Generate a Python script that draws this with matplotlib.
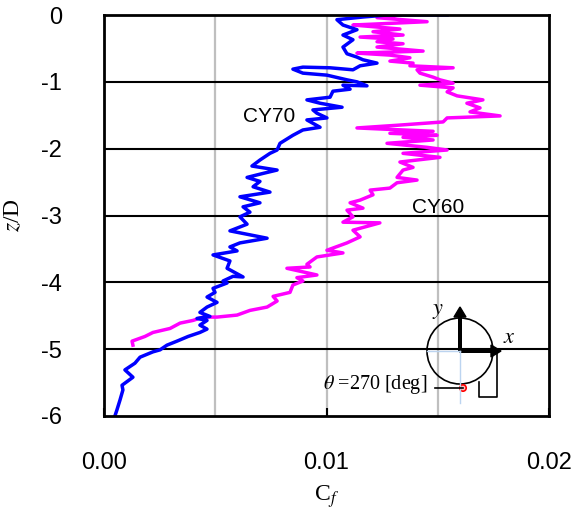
import numpy as np
import matplotlib
matplotlib.use("Agg")
import matplotlib.pyplot as plt
from matplotlib.patches import Circle, FancyArrow

plt.rcParams["mathtext.fontset"] = "stix"

# Skin-friction profiles along the height, Cf in units of 1e-4
cf70 = np.array([
    4.9, 5.8, 7.2, 8.5, 8.1, 13.0, 9.4, 13.9, 16.2, 22.0, 25.2, 28.3, 32.8, 37.8,
    43.1, 46.3, 43.1, 46.3, 41.8, 47.6, 43.1, 46.3, 50.8, 46.3, 49.9, 49.0, 55.3,
    53.5, 58.0, 62.5, 55.3, 56.6, 49.0, 59.8, 56.6, 61.1, 73.3, 56.6, 64.3, 61.1,
    65.6, 62.5, 70.1, 61.1, 74.6, 67.0, 70.1, 64.3, 71.5, 77.8, 66.5, 70.1, 74.6,
    77.8, 79.1, 84.9, 89.4, 97.1, 91.2, 100.2, 95.7, 93.9, 107.0, 97.1, 91.2,
    101.6, 102.9, 110.6, 107.4, 118.2, 113.7, 109.2, 100.2, 89.4, 84.9, 89.4,
    101.6, 111.9, 115.1, 122.7, 116.4, 113.7, 109.2, 107.4, 111.9, 107.4, 113.7,
    107.4, 104.7, 116.4, 127.2, 154.2]) * 1e-4
z70 = np.array([
    -6.00, -5.91, -5.76, -5.61, -5.54, -5.42, -5.31, -5.21, -5.12, -5.04, -5.01,
    -4.94, -4.88, -4.81, -4.75, -4.70, -4.64, -4.57, -4.54, -4.51, -4.45, -4.37,
    -4.30, -4.22, -4.15, -4.09, -4.01, -3.98, -3.91, -3.92, -3.79, -3.68, -3.59,
    -3.53, -3.47, -3.41, -3.34, -3.23, -3.13, -3.02, -2.95, -2.87, -2.81, -2.72,
    -2.65, -2.57, -2.49, -2.43, -2.37, -2.32, -2.26, -2.17, -2.07, -2.02, -1.92,
    -1.80, -1.72, -1.68, -1.57, -1.54, -1.47, -1.42, -1.38, -1.32, -1.27, -1.23,
    -1.14, -1.11, -1.05, -1.06, -1.00, -0.97, -0.90, -0.87, -0.81, -0.78, -0.79,
    -0.82, -0.76, -0.72, -0.67, -0.63, -0.58, -0.48, -0.37, -0.30, -0.22, -0.15,
    -0.07, -0.03, 0.00, 0.00])

cf60 = np.array([
    13.0, 12.6, 18.4, 22.0, 29.7, 34.2, 40.0, 44.5, 50.8, 59.8, 65.6, 73.3, 77.8,
    76.0, 83.6, 84.9, 89.4, 86.7, 95.7, 82.2, 92.6, 91.2, 95.7, 107.4, 100.2,
    109.2, 115.1, 111.9, 124.0, 107.4, 111.9, 109.2, 116.4, 110.6, 115.1, 120.9,
    119.6, 128.5, 131.7, 140.7, 131.7, 134.4, 138.9, 133.0, 151.0, 134.4, 154.2,
    145.2, 127.2, 147.9, 134.4, 149.7, 128.5, 147.9, 113.7, 131.7, 152.4, 154.2,
    178.0, 164.5, 169.0, 163.1, 170.3, 158.7, 154.2, 156.9, 142.0, 156.9, 151.0,
    147.9, 142.0, 140.7, 156.9, 137.5, 138.9, 128.5, 137.5, 128.5, 113.7, 143.4,
    122.7, 134.4, 122.7, 129.9, 115.1, 134.4, 120.9, 133.0, 122.7, 111.9, 145.2,
    122.7, 133.0]) * 1e-4
z60 = np.array([
    -4.94, -4.88, -4.81, -4.75, -4.69, -4.61, -4.57, -4.52, -4.52, -4.49, -4.42,
    -4.37, -4.28, -4.21, -4.15, -4.04, -3.98, -3.93, -3.89, -3.79, -3.77, -3.73,
    -3.62, -3.56, -3.52, -3.41, -3.32, -3.22, -3.11, -3.10, -3.02, -2.92, -2.89,
    -2.81, -2.77, -2.69, -2.62, -2.59, -2.51, -2.47, -2.43, -2.32, -2.28, -2.20,
    -2.13, -2.07, -2.02, -1.98, -1.92, -1.87, -1.83, -1.80, -1.77, -1.74, -1.69,
    -1.65, -1.60, -1.54, -1.51, -1.45, -1.39, -1.32, -1.27, -1.21, -1.15, -1.09,
    -1.05, -1.02, -0.97, -0.93, -0.87, -0.82, -0.79, -0.76, -0.72, -0.69, -0.64,
    -0.60, -0.57, -0.54, -0.48, -0.43, -0.40, -0.36, -0.33, -0.30, -0.25, -0.21,
    -0.18, -0.15, -0.10, -0.04, 0.00])

xticks = [0.0, 0.01, 0.02]
xticklabels = ["0.00", "0.01", "0.02"]
yticks = [0, -1, -2, -3, -4, -5, -6]

fig = plt.figure(figsize=(5.75, 5.12), dpi=100)
ax = fig.add_axes([104 / 575, 1 - 416 / 512, 445 / 575, 401 / 512])

for x in (0.005, 0.01, 0.015):
    ax.axvline(x, color="#bfbfbf", lw=1.6, zorder=1)
for y in yticks[1:-1]:
    ax.axhline(y, color="black", lw=1.5, zorder=1)

ax.plot(cf70, z70, color="#0000ff", lw=2.5, zorder=3, solid_joinstyle="round")
ax.plot(cf60, z60, color="#ff00ff", lw=2.5, zorder=2, solid_joinstyle="round")

ax.set_xlim(0, 0.02)
ax.set_ylim(-6, 0)
ax.set_xticks(xticks)
ax.set_xticklabels(xticklabels)
ax.set_yticks(yticks)
ax.set_yticklabels([str(v) for v in yticks])
ax.tick_params(axis="both", direction="in", length=6, width=1.5,
               labelsize=17)
ax.tick_params(axis="y", pad=30, length=0)
ax.tick_params(axis="x", pad=26)
for lab in ax.get_xticklabels() + ax.get_yticklabels():
    lab.set_family("Liberation Sans")
for s in ax.spines.values():
    s.set_linewidth(2.0)
    s.set_zorder(4)

ax.text(0.0074, -1.52, "CY70", fontsize=15, family="Liberation Sans",
        ha="center", va="center")
ax.text(0.0150, -2.88, "CY60", fontsize=15, family="Liberation Sans",
        ha="center", va="center")

fig.text(327 / 575, 1 - 497 / 512, r"C$_f$", fontsize=17,
         family="Liberation Serif", ha="center", va="center")
fig.text(14 / 575, 1 - 215 / 512, r"$z$/D", fontsize=17, rotation=90,
         family="Liberation Serif", ha="center", va="center")

# coordinate-system sketch drawn in figure pixel space
sk = fig.add_axes([0, 0, 1, 1], zorder=5)
sk.set_xlim(0, 575)
sk.set_ylim(512, 0)
sk.axis("off")
sk.patch.set_alpha(0)
cx, cy, r = 460, 351, 33
sk.plot([cx - r, cx], [cy, cy], color="#bcd4f0", lw=1.0)
sk.plot([cx, cx], [cy, cy + 52], color="#bcd4f0", lw=1.0)
sk.add_patch(Circle((cx, cy), r, fill=False, ec="black", lw=1.2))
sk.add_patch(FancyArrow(cx, cy, 0, -34, width=2.6, head_width=12,
                        head_length=10, length_includes_head=False,
                        color="black"))
sk.add_patch(FancyArrow(cx, cy, 31, 0, width=2.6, head_width=12,
                        head_length=10, length_includes_head=False,
                        color="black"))
sk.plot([497, 497, 479, 479], [352, 397, 397, 382], color="black", lw=1.2)
sk.plot([435, 463], [388, 388], color="black", lw=1.2)
sk.add_patch(Circle((463, 388), 3.2, fc="#ffc0c0", ec="#ff0000", lw=1.2))
sk.text(438, 311, r"$y$", fontsize=16, ha="center", va="center")
sk.text(509, 337, r"$x$", fontsize=16, ha="center", va="center")
sk.text(427, 385, r"$\theta$ =270 [deg]", fontsize=14.5,
        family="Liberation Serif", ha="right", va="center")

fig.savefig("out.png", dpi=100)
